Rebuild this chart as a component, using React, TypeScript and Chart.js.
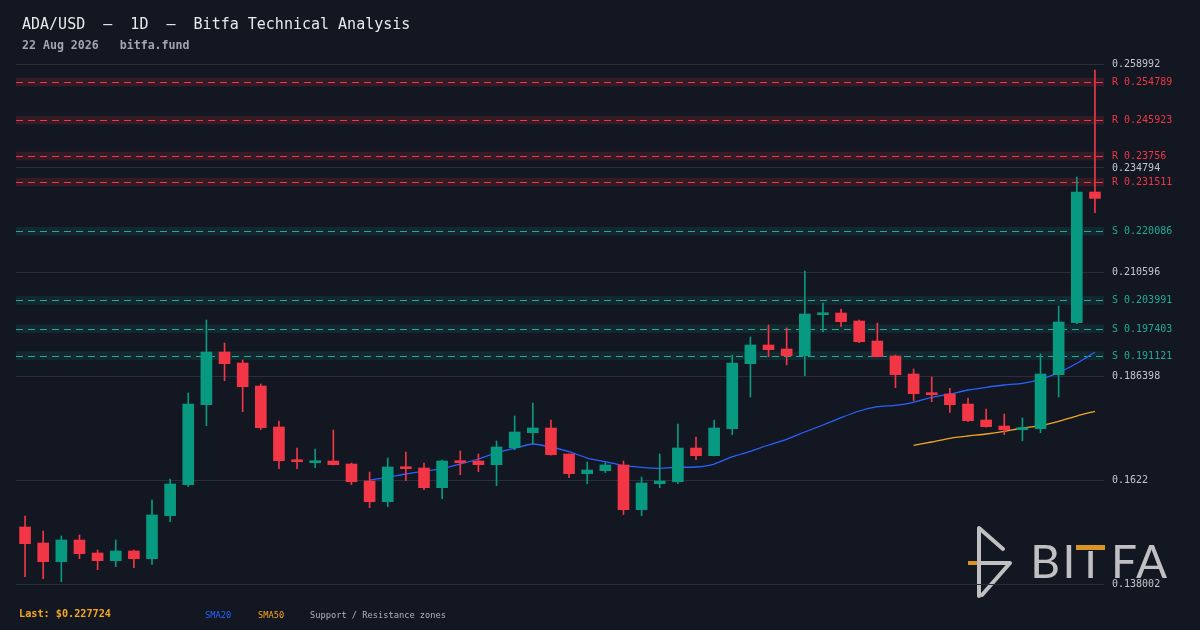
import React, { useEffect, useRef } from "react";
import { Chart, registerables } from "chart.js";

Chart.register(...registerables);

// ---------------- data ----------------
const END_DATE = Date.UTC(2026, 7, 22);
const categories: string[] = Array.from({ length: 60 }, (_, i) => {
  const d = new Date(END_DATE - (59 - i) * 86400000);
  return d.toISOString().slice(0, 10);
});

const opens = [0.151264, 0.147541, 0.14319, 0.148239, 0.145214, 0.143423, 0.14568, 0.143888, 0.153893, 0.161106,
  0.179719, 0.191981, 0.189422, 0.18407, 0.174531, 0.166853, 0.166224, 0.16662, 0.165922, 0.161967,
  0.15715, 0.165224, 0.164991, 0.160408, 0.16669, 0.16662, 0.165759, 0.169715, 0.173205, 0.174298,
  0.168249, 0.163666, 0.164364, 0.16569, 0.155289, 0.161339, 0.161804, 0.169645, 0.167854, 0.174135,
  0.189259, 0.19361, 0.192679, 0.19112, 0.20066, 0.201056, 0.199194, 0.19454, 0.191051, 0.186863,
  0.182442, 0.182208, 0.179882, 0.17616, 0.174764, 0.173903, 0.174135, 0.1867, 0.198798, 0.229209];

const highs = [0.153823, 0.150333, 0.14917, 0.149403, 0.145912, 0.148239, 0.145912, 0.157546, 0.162432, 0.182442,
  0.199427, 0.194075, 0.19012, 0.184536, 0.175927, 0.169645, 0.169412, 0.173833, 0.166155, 0.164061,
  0.167318, 0.168714, 0.166155, 0.166853, 0.168947, 0.168249, 0.171273, 0.17709, 0.180115, 0.17616,
  0.1683, 0.166386, 0.166224, 0.16662, 0.162897, 0.168249, 0.175229, 0.172204, 0.17616, 0.191284,
  0.195471, 0.198263, 0.197565, 0.210827, 0.203382, 0.201986, 0.199427, 0.198729, 0.191284, 0.188026,
  0.186164, 0.183536, 0.181278, 0.178719, 0.177555, 0.176625, 0.191516, 0.202684, 0.232699, 0.257595];

const lows = [0.1397, 0.139235, 0.138537, 0.143888, 0.141329, 0.142027, 0.141794, 0.142492, 0.152497, 0.160641,
  0.174833, 0.185303, 0.178091, 0.173903, 0.164829, 0.164829, 0.165061, 0.1657, 0.161106, 0.155754,
  0.155987, 0.162037, 0.159943, 0.157848, 0.163433, 0.164131, 0.160873, 0.169249, 0.170576, 0.168,
  0.162735, 0.161339, 0.163898, 0.154126, 0.153893, 0.160408, 0.161339, 0.166923, 0.1678, 0.172739,
  0.181511, 0.190888, 0.18898, 0.186467, 0.196635, 0.197868, 0.194143, 0.19085, 0.183675, 0.18065,
  0.180417, 0.17795, 0.175764, 0.1745, 0.172739, 0.17135, 0.173205, 0.181511, 0.198566, 0.224416];

const closes = [0.147378, 0.14319, 0.148239, 0.145052, 0.143423, 0.14568, 0.143888, 0.154056, 0.161269, 0.179882,
  0.191981, 0.189259, 0.183908, 0.174368, 0.16669, 0.166457, 0.16662, 0.165759, 0.161804, 0.15715,
  0.165224, 0.164829, 0.160408, 0.16662, 0.166224, 0.165759, 0.169878, 0.173368, 0.174298, 0.168086,
  0.163666, 0.164526, 0.16569, 0.155289, 0.161501, 0.161967, 0.169645, 0.167854, 0.174298, 0.189422,
  0.19361, 0.192516, 0.19112, 0.200823, 0.200986, 0.199031, 0.194376, 0.190888, 0.1867, 0.182278,
  0.182046, 0.179719, 0.175997, 0.174601, 0.173903, 0.174368, 0.186863, 0.198961, 0.229209, 0.227724];

const sma20 = [null, null, null, null, null, null, null, null, null, null,
  null, null, null, null, null, null, null, null, null, 0.1622,
  0.162828, 0.163596, 0.164224, 0.164829, 0.165922, 0.167086, 0.168551, 0.169575, 0.170576, 0.169878,
  0.168784, 0.167318, 0.166457, 0.165526, 0.165154, 0.164922, 0.165154, 0.165224, 0.165922, 0.167621,
  0.168877, 0.170343, 0.171669, 0.173368, 0.174997, 0.176695, 0.178254, 0.179254, 0.17958, 0.180278,
  0.181441, 0.182208, 0.183139, 0.183768, 0.184303, 0.184698, 0.185629, 0.187164, 0.189352, 0.191911];

const sma50 = [null, null, null, null, null, null, null, null, null, null,
  null, null, null, null, null, null, null, null, null, null,
  null, null, null, null, null, null, null, null, null, null,
  null, null, null, null, null, null, null, null, null, null,
  null, null, null, null, null, null, null, null, null, 0.170274,
  0.171043, 0.171903, 0.172437, 0.172902, 0.173531, 0.174298, 0.174833, 0.175857, 0.17709, 0.178184];

const resistanceLevels = [0.254789, 0.245923, 0.23756, 0.231511];
const supportLevels = [0.220086, 0.203991, 0.197403, 0.191121];
const ZONE_HALF = 0.001;

const yTicks = [0.138002, 0.1622, 0.186398, 0.210596, 0.234794, 0.258992];

const TITLE = "ADA/USD  \u2013  1D  \u2013  Bitfa Technical Analysis";
const SUBTITLE = "22 Aug 2026   bitfa.fund";
const LAST_PRICE = "0.227724";
const LEGEND = ["SMA20", "SMA50", "Support / Resistance zones"];
const LOGO_LETTERS = ["B", "I", "T", "F", "A"];

// ---------------- styles ----------------
const BG = "#131722";
const MONO = '"DejaVu Sans Mono", monospace';
const UP = "#089981";
const DOWN = "#f23645";
const S_COLOR = "#22ab94";
const R_COLOR = "#f23645";
const BLUE = "#2962ff";
const ORANGE = "#f5a623";
const LOGO = "#d8d8d8";

const textPlugin = {
  id: "texts",
  afterDraw(chart: any) {
    const ctx = chart.ctx as CanvasRenderingContext2D;
    ctx.save();
    ctx.textAlign = "left";
    ctx.textBaseline = "alphabetic";
    ctx.fillStyle = "#e8e9ec";
    ctx.font = `15px ${MONO}`;
    ctx.fillText(TITLE, 22, 29);
    ctx.fillStyle = "#a3a6af";
    ctx.font = `bold 11.6px ${MONO}`;
    ctx.fillText(SUBTITLE, 22, 49);
    ctx.fillStyle = ORANGE;
    ctx.font = `bold 10.2px ${MONO}`;
    ctx.fillText(`Last: $${LAST_PRICE}`, 19, 617);
    ctx.font = `8.7px ${MONO}`;
    ctx.fillStyle = BLUE;
    ctx.fillText(LEGEND[0], 205, 618);
    ctx.fillStyle = ORANGE;
    ctx.fillText(LEGEND[1], 258, 618);
    ctx.fillStyle = "#b2b5be";
    ctx.fillText(LEGEND[2], 310, 618);
    ctx.restore();
  },
};

const logoPlugin = {
  id: "logo",
  beforeDraw(chart: any) {
    const ctx = chart.ctx as CanvasRenderingContext2D;
    ctx.save();
    ctx.globalAlpha = 0.88;
    ctx.strokeStyle = LOGO;
    ctx.lineWidth = 4;
    ctx.lineCap = "round";
    ctx.lineJoin = "round";
    ctx.beginPath();
    ctx.moveTo(1003, 549);
    ctx.lineTo(979, 528);
    ctx.lineTo(979, 596);
    ctx.moveTo(981, 563);
    ctx.lineTo(1010, 563);
    ctx.lineTo(982, 595);
    ctx.stroke();
    ctx.strokeStyle = ORANGE;
    ctx.lineCap = "butt";
    ctx.beginPath();
    ctx.moveTo(968, 563);
    ctx.lineTo(977, 563);
    ctx.stroke();

    ctx.fillStyle = LOGO;
    ctx.font = '46px Lato, "Open Sans", sans-serif';
    ctx.textBaseline = "alphabetic";
    ctx.textAlign = "center";
    const centers = [1045, 1069, 1090.5, 1124, 1151.5];
    LOGO_LETTERS.forEach((l, i) => {
      if (l === "T") {
        ctx.save();
        ctx.beginPath();
        ctx.rect(centers[i] - 20, 551, 40, 40);
        ctx.clip();
        ctx.fillText(l, centers[i], 578);
        ctx.restore();
      } else {
        ctx.fillText(l, centers[i], 578);
      }
    });
    ctx.fillStyle = ORANGE;
    ctx.fillRect(1076, 545, 29, 5);
    ctx.restore();
  },
};

const srPlugin = {
  id: "srZones",
  beforeDatasetsDraw(chart: any) {
    const ctx = chart.ctx as CanvasRenderingContext2D;
    const a = chart.chartArea;
    const y = chart.scales.y;
    ctx.save();
    const draw = (lv: number, color: string, fill: string, tag: string) => {
      const yt = y.getPixelForValue(lv + ZONE_HALF);
      const yb = y.getPixelForValue(lv - ZONE_HALF);
      ctx.fillStyle = fill;
      ctx.fillRect(a.left, yt, a.right - a.left, yb - yt);
      const yy = Math.round(y.getPixelForValue(lv)) + 0.5;
      ctx.strokeStyle = color;
      ctx.lineWidth = 1;
      ctx.setLineDash([7, 5]);
      ctx.beginPath();
      ctx.moveTo(a.left, yy);
      ctx.lineTo(a.right, yy);
      ctx.stroke();
      ctx.setLineDash([]);
      ctx.fillStyle = color;
      ctx.font = `10px ${MONO}`;
      ctx.textAlign = "left";
      ctx.textBaseline = "middle";
      ctx.fillText(`${tag} ${lv}`, a.right + 8, yy);
    };
    resistanceLevels.forEach((lv) => draw(lv, R_COLOR, "rgba(242,54,69,0.15)", "R"));
    supportLevels.forEach((lv) => draw(lv, S_COLOR, "rgba(34,171,148,0.12)", "S"));
    ctx.restore();
  },
};

export default function App() {
  const ref = useRef<HTMLCanvasElement | null>(null);

  useEffect(() => {
    if (!ref.current) return;
    const colors = closes.map((c, i) => (c >= opens[i] ? UP : DOWN));
    const chart = new Chart(ref.current, {
      type: "bar",
      data: {
        labels: categories,
        datasets: [
          {
            type: "bar",
            label: "body",
            data: opens.map((o, i) => [o, closes[i]]) as any,
            backgroundColor: colors,
            borderWidth: 0,
            barThickness: 11,
            minBarLength: 2,
            grouped: false,
            order: 0,
          },
          {
            type: "bar",
            label: "wick",
            data: lows.map((l, i) => [l, highs[i]]) as any,
            backgroundColor: colors,
            borderWidth: 0,
            barThickness: 1,
            grouped: false,
            order: 1,
          },
          {
            type: "line",
            label: "SMA20",
            data: sma20 as any,
            borderColor: BLUE,
            borderWidth: 1.3,
            pointRadius: 0,
            tension: 0.2,
            order: 2,
          },
          {
            type: "line",
            label: "SMA50",
            data: sma50 as any,
            borderColor: ORANGE,
            borderWidth: 1.3,
            pointRadius: 0,
            tension: 0.2,
            order: 3,
          },
        ],
      },
      options: {
        responsive: false,
        animation: false,
        devicePixelRatio: 1,
        layout: { padding: { left: 16, top: 64, bottom: 46, right: 0 } },
        plugins: {
          legend: { display: false },
          tooltip: { enabled: false },
          title: { display: false },
        },
        scales: {
          x: {
            type: "category",
            offset: true,
            display: false,
            grid: { display: false },
          },
          y: {
            position: "right",
            min: yTicks[0],
            max: yTicks[yTicks.length - 1],
            afterFit: (s: any) => {
              s.width = 96;
            },
            afterBuildTicks: (s: any) => {
              s.ticks = yTicks.map((v) => ({ value: v }));
            },
            grid: { color: "#2a2e39", lineWidth: 1, drawTicks: false },
            border: { display: false },
            ticks: {
              padding: 8,
              color: "#c3c6ce",
              font: { family: MONO, size: 10 },
              callback: (v: any) => String(v),
            },
          },
        },
      },
      plugins: [logoPlugin, srPlugin, textPlugin],
    });
    return () => chart.destroy();
  }, []);

  return (
    <div style={{ position: "fixed", left: 0, top: 0, width: 1200, height: 630, background: BG }}>
      <canvas ref={ref} width={1200} height={630} style={{ display: "block", width: 1200, height: 630 }} />
    </div>
  );
}
